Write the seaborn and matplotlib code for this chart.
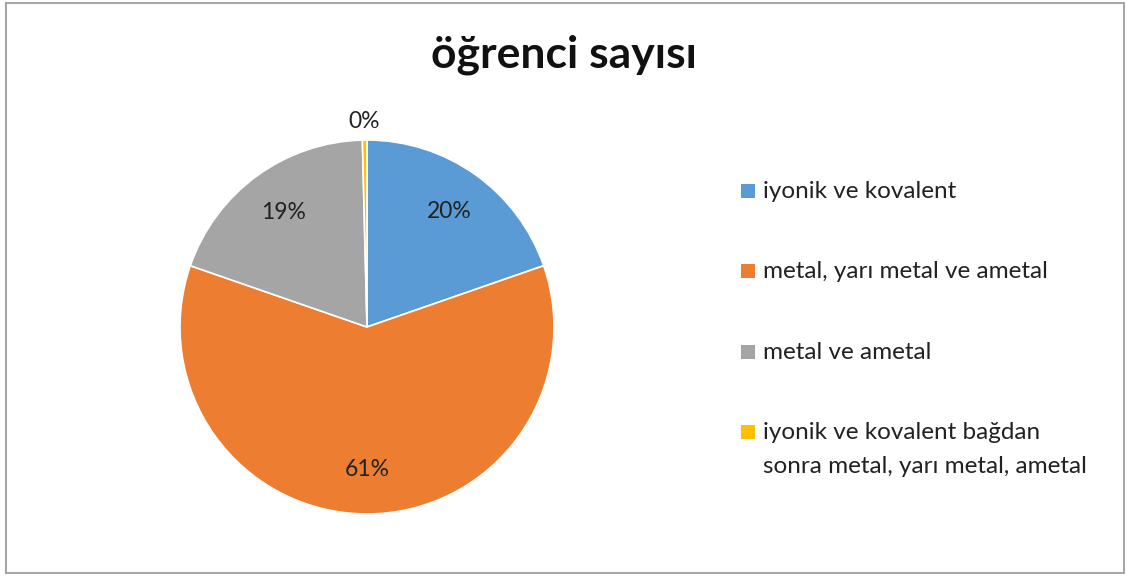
import matplotlib
matplotlib.use("Agg")
import matplotlib.pyplot as plt
import seaborn as sns
from matplotlib.patches import Rectangle

# Category labels and student counts
categories = [
    "iyonik ve kovalent",
    "metal, yarı metal ve ametal",
    "metal ve ametal",
    "iyonik ve kovalent bağdan\nsonra metal, yarı metal, ametal",
]
counts = [50, 154, 49, 1]
colors = ["#5B9BD5", "#ED7D31", "#A5A5A5", "#FFC000"]
title = "öğrenci sayısı"

sns.set_theme(style="white")
plt.rcParams["font.family"] = ["Lato", "DejaVu Sans"]

W, H = 1129, 576
fig = plt.figure(figsize=(W / 100, H / 100), dpi=100)
fig.patch.set_facecolor("white")

def fx(px):
    return px / W

def fy(py):
    return 1 - py / H

# pie centred at (367, 327) px with radius 187 px
cx, cy, r = 367, 327, 187
ax = fig.add_axes([(cx - r) / W, (H - cy - r) / H, 2 * r / W, 2 * r / H])
wedges, texts, autotexts = ax.pie(
    counts,
    colors=colors,
    startangle=90,
    counterclock=False,
    autopct=lambda p: f"{p:.0f}%",
    pctdistance=0.76,
    wedgeprops=dict(edgecolor="white", linewidth=1.2),
    textprops=dict(fontsize=16.5, color="#222222"),
)
ax.set_xlim(-1, 1)
ax.set_ylim(-1, 1)
ax.set_aspect("equal")
ax.axis("off")

# the tiny last slice gets its label outside the pie
x0, y0 = autotexts[-1].get_position()
s = 1.10 / 0.76
autotexts[-1].set_position((x0 * s, y0 * s))

fig.text(fx(564), fy(55), title, ha="center", va="center",
         fontsize=32, fontweight="bold", color="#111111")

# legend: square swatch sitting on the baseline of the first text line
baselines = [198, 278, 359, 439]
line_step = 34
sw = 14
for wedge, label, base in zip(wedges, categories, baselines):
    fig.patches.append(Rectangle((fx(741), fy(base)), sw / W, sw / H,
                                 transform=fig.transFigure,
                                 facecolor=wedge.get_facecolor(),
                                 edgecolor="none"))
    for i, line in enumerate(label.split("\n")):
        fig.text(fx(763), fy(base + i * line_step), line, ha="left",
                 va="baseline", fontsize=17.5, color="#222222")

# outer chart border
fig.patches.append(Rectangle((6 / W, 3 / H), 1118 / W, 570 / H,
                             transform=fig.transFigure, fill=False,
                             edgecolor="#A6A6A6", linewidth=1.5))

fig.savefig("out.png", dpi=100, facecolor="white")
